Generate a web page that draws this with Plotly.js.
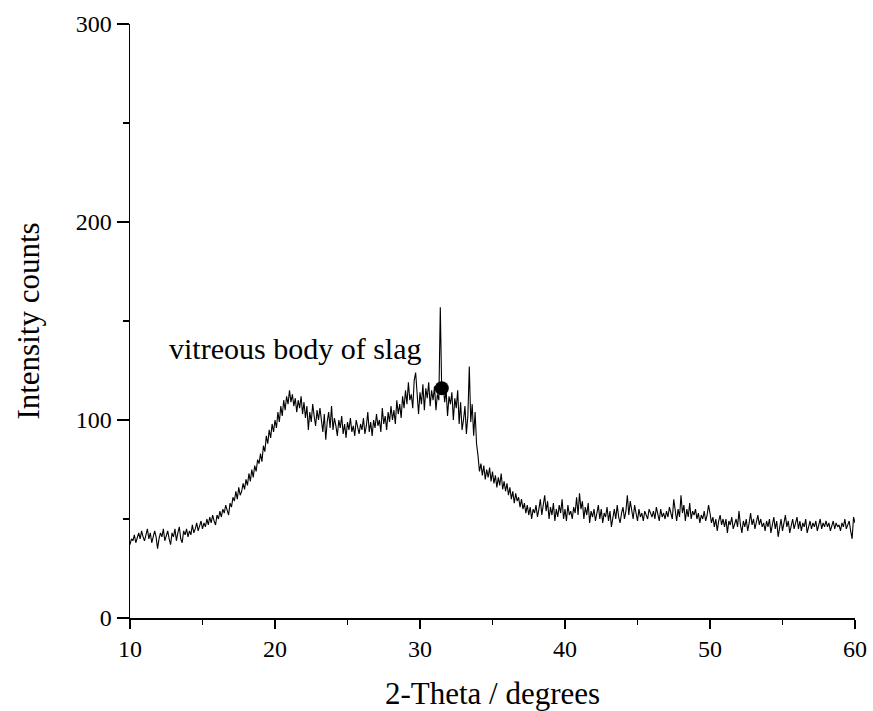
<!DOCTYPE html>
<html>
<head>
<meta charset="utf-8">
<script src="https://cdn.plot.ly/plotly-3.0.1.min.js"></script>
<style>html,body{margin:0;padding:0;background:#fff;}#chart{width:873px;height:711px;}</style>
</head>
<body>
<div id="chart"></div>
<script>
// 2-Theta grid: start and step (degrees)
var thetaStart = 10;
var thetaStep = 0.1;

// Intensity counts, one row per degree (10 samples each)
var intensity = [
  37, 40, 39, 42, 38, 41, 43, 40, 44, 41,
  39, 42, 45, 40, 43, 38, 42, 44, 41, 35,
  40, 43, 41, 45, 39, 42, 44, 40, 37, 43,
  41, 45, 39, 43, 46, 40, 38, 44, 42, 45,
  41, 44, 42, 47, 43, 45, 48, 44, 46, 49,
  45, 48, 46, 50, 47, 51, 48, 52, 49, 47,
  52, 50, 54, 51, 55, 53, 57, 54, 52, 58,
  56, 61, 59, 64, 60, 66, 62, 64, 68, 65,
  70, 67, 73, 69, 75, 71, 77, 74, 80, 78,
  83, 79, 87, 84, 92, 88, 95, 91, 98, 94,
  100, 96, 104, 99, 107, 102, 110, 105, 112, 108,
  115, 109, 113, 107, 111, 104, 110, 106, 112, 103,
  109, 101, 107, 95, 104, 99, 108, 102, 97, 105,
  100, 106, 98, 94, 103, 90, 99, 104, 96, 107,
  95, 101, 97, 92, 100, 96, 102, 93, 98, 91,
  99, 95, 101, 94, 97, 92, 100, 96, 93, 98,
  95, 101, 93, 97, 104, 94, 99, 92, 100, 96,
  103, 97, 100, 94, 106, 98, 102, 95, 104, 99,
  107, 100, 105, 98, 110, 103, 108, 101, 112, 106,
  115, 108, 119, 110, 113, 106, 120, 124, 111, 103,
  114, 108, 118, 105, 116, 111, 119, 107, 115, 110,
  117, 105, 113, 110, 157, 114, 118, 109, 115, 102,
  112, 108, 114, 100, 111, 106, 115, 98, 109, 95,
  100, 107, 93, 102, 127, 99, 108, 92, 104, 88,
  82, 74, 78, 72, 77, 70, 75, 71, 76, 69,
  74, 68, 72, 66, 71, 67, 73, 65, 69, 64,
  68, 62, 66, 60, 64, 58, 63, 59, 61, 56,
  60, 55, 58, 53, 57, 52, 56, 50, 55, 53,
  57, 51, 55, 60, 52, 58, 62, 54, 59, 50,
  56, 52, 58, 49, 55, 51, 57, 53, 60, 50,
  55, 49, 57, 52, 54, 50, 56, 53, 61, 52,
  63, 55, 59, 50, 56, 52, 58, 48, 54, 51,
  55, 49, 53, 57, 50, 55, 48, 53, 51, 56,
  49, 54, 46, 52, 55, 50, 57, 51, 48, 53,
  56, 50, 54, 62, 52, 59, 55, 50, 57, 53,
  49, 55, 51, 53, 49, 54, 52, 50, 55, 53,
  51, 54, 50, 56, 52, 49, 55, 51, 53, 50,
  54, 51, 56, 52, 50, 60, 54, 49, 55, 51,
  62, 53, 57, 49, 55, 51, 58, 50, 54, 52,
  55, 50, 53, 48, 52, 50, 54, 49, 52, 57,
  53, 48, 51, 46, 50, 44, 49, 52, 47, 50,
  46, 50, 43, 49, 47, 51, 45, 48, 50, 46,
  54, 47, 43, 49, 46, 50, 44, 48, 53, 47,
  50, 45, 49, 52, 47, 50, 46, 48, 44, 49,
  46, 50, 43, 48, 51, 45, 49, 41, 47, 50,
  44, 48, 52, 46, 49, 43, 47, 50, 45, 48,
  51, 45, 49, 44, 48, 46, 50, 43, 47, 49,
  45, 48, 46, 49, 44, 47, 50, 45, 48, 46,
  49, 46, 48, 44, 47, 49, 45, 48, 46, 47,
  44, 48, 46, 50, 45, 47, 49, 44, 40, 51,
  48
];

// Marked phase point
var markerTheta = [31.5];
var markerCounts = [116];
var markerLabel = 'vitreous body of slag';
var labelTheta = 21.4;
var labelCounts = 136;

var xTickVals = [10, 20, 30, 40, 50, 60];
var yTickVals = [0, 100, 200, 300];

var serif = 'Liberation Serif, Times New Roman, serif';

var traces = [
  {
    type: 'scatter', mode: 'lines',
    y: intensity, x0: thetaStart, dx: thetaStep,
    line: {color: '#000', width: 1.1},
    hoverinfo: 'x+y', showlegend: false
  },
  {
    type: 'scatter', mode: 'markers',
    x: markerTheta, y: markerCounts,
    marker: {color: '#000', size: 14},
    showlegend: false
  }
];

var layout = {
  width: 873, height: 711,
  margin: {l: 130, r: 18, t: 24, b: 93},
  paper_bgcolor: '#fff', plot_bgcolor: '#fff',
  font: {family: serif, color: '#000', size: 24},
  showlegend: false,
  xaxis: {
    range: [10, 60], tickvals: xTickVals,
    showgrid: false, zeroline: false,
    showline: true, linecolor: '#000', linewidth: 1.5,
    ticks: 'outside', ticklen: 9, tickwidth: 1.5, tickcolor: '#000',
    minor: {dtick: 5, ticks: 'outside', ticklen: 5, tickwidth: 1.5, tickcolor: '#000', showgrid: false},
    tickfont: {family: serif, size: 24},
    title: {text: '2-Theta / degrees', font: {family: serif, size: 31}, standoff: 21}
  },
  yaxis: {
    range: [0, 300], tickvals: yTickVals,
    showgrid: false, zeroline: false,
    showline: true, linecolor: '#000', linewidth: 1.5,
    ticks: 'outside', ticklen: 12, tickwidth: 1.5, tickcolor: '#000',
    minor: {dtick: 50, ticks: 'outside', ticklen: 6, tickwidth: 1.5, tickcolor: '#000', showgrid: false},
    tickfont: {family: serif, size: 24},
    title: {text: 'Intensity counts', font: {family: serif, size: 31}, standoff: 27}
  },
  annotations: [
    {
      x: labelTheta, y: labelCounts, xref: 'x', yref: 'y',
      text: markerLabel, showarrow: false,
      xanchor: 'center', yanchor: 'middle',
      font: {family: serif, size: 30, color: '#000'}
    }
  ]
};

Plotly.newPlot('chart', traces, layout, {displayModeBar: false, staticPlot: true});
</script>
</body>
</html>
